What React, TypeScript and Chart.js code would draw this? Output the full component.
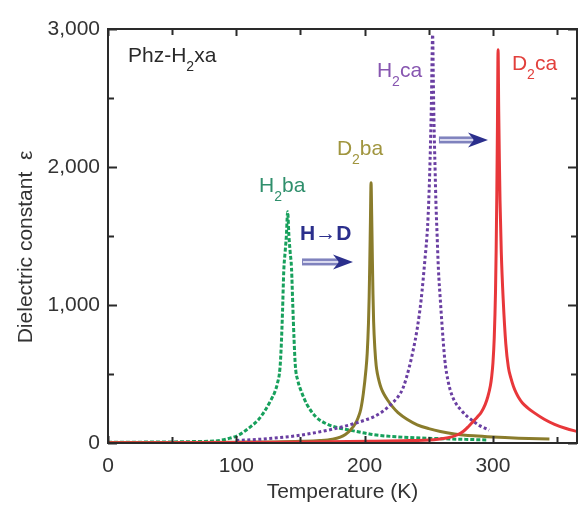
import React, { useEffect, useRef } from "react";
import { Chart, registerables } from "chart.js";
Chart.register(...registerables);

const FONT = "'Liberation Sans', Arial, Helvetica, sans-serif";

// H2ba (green dashed)
const h2baT = [0, 20, 40, 60, 70, 84, 95, 102, 110, 117, 122, 127, 130, 132, 134, 135, 136, 137, 138, 139, 140, 141, 142, 143, 144, 145, 146, 148, 151, 155, 162, 170, 177, 188, 200, 207, 220, 240, 260, 280, 296];
const h2baV = [5, 6, 7, 9, 11, 15, 35, 58, 110, 167, 230, 312, 370, 430, 540, 700, 950, 1250, 1380, 1500, 1675, 1500, 1380, 1270, 1000, 750, 560, 450, 365, 280, 190, 140, 116, 94, 72, 60, 48, 38, 31, 26, 22];

// D2ba (olive solid)
const d2baT = [0, 50, 100, 130, 150, 165, 175, 181, 185, 189, 193, 195, 197, 199, 201, 202, 203, 203.5, 204, 204.5, 205, 205.5, 206, 206.5, 207, 208, 209, 210, 211.5, 213, 215, 218, 222, 226, 233, 241, 250, 259, 270, 285, 300, 320, 344];
const d2baV = [3, 4, 6, 8, 12, 18, 28, 43, 62, 94, 145, 185, 245, 360, 529, 650, 870, 1050, 1300, 1600, 1885, 1650, 1350, 1080, 880, 680, 560, 500, 440, 395, 355, 310, 260, 220, 172, 132, 104, 83, 66, 52, 43, 35, 29];

// H2ca (purple dotted)
const h2caT = [100, 115, 130, 145, 160, 175, 187, 200, 207, 214, 220, 226, 230, 234.5, 238, 241, 244, 247, 249, 250, 251, 252, 253, 253.5, 254, 255, 255.5, 256.5, 257.5, 259, 260.5, 262, 263, 265, 267, 270, 275, 280, 285, 290, 297];
const h2caV = [18, 25, 36, 50, 72, 100, 128, 165, 190, 228, 275, 335, 400, 540, 680, 830, 1036, 1330, 1560, 1761, 2050, 2450, 2960, 2650, 2350, 1950, 1761, 1500, 1260, 1036, 830, 650, 560, 450, 375, 305, 240, 192, 155, 124, 94];

// D2ca (red solid)
const d2caT = [0, 104, 154, 204, 229, 254, 265, 272, 277, 281, 285, 288, 291, 294, 296, 298, 299, 300, 301, 302, 302.5, 303, 303.5, 304, 304.5, 305, 305.5, 306.5, 308, 310, 312, 314, 316, 318, 320, 323, 327, 332, 340, 348, 357, 366];
const d2caV = [2, 4, 7, 12, 16, 24, 38, 58, 85, 120, 160, 190, 225, 280, 335, 415, 480, 580, 760, 1100, 1400, 1800, 2300, 2850, 2400, 2050, 1761, 1380, 1036, 720, 550, 470, 410, 365, 330, 290, 255, 220, 172, 135, 105, 82];

const xTickValues = [0, 100, 200, 300];
const xMinorValues = [50, 150, 250, 350];
const yTickValues = [0, 1000, 2000, 3000];
const yMinorValues = [500, 1500, 2500];

const xTitle = "Temperature (K)";
const yTitle = "Dielectric constant  \u03b5";

type Part = [string, boolean];
const labels: { parts: Part[]; t: number; v: number; color: string; bold?: boolean }[] = [
  { parts: [["Phz-H", false], ["2", true], ["xa", false]], t: 15.6, v: 2761, color: "#2a2a2a" },
  { parts: [["H", false], ["2", true], ["ba", false]], t: 117.7, v: 1819, color: "#2f8f6c" },
  { parts: [["D", false], ["2", true], ["ba", false]], t: 178.4, v: 2087, color: "#a0953e" },
  { parts: [["H", false], ["2", true], ["ca", false]], t: 209.6, v: 2652, color: "#8756b0" },
  { parts: [["D", false], ["2", true], ["ca", false]], t: 314.8, v: 2703, color: "#e2403c" },
  { parts: [["H\u2192D", false]], t: 149.6, v: 1471, color: "#2b2f8c", bold: true },
];
const arrows = [
  { t1: 151.2, t2: 190.9, v: 1312 },
  { t1: 257.9, t2: 296.1, v: 2196 },
];

const pts = (t: number[], v: number[]) => t.map((x, i) => ({ x, y: v[i] }));

const decor = {
  id: "decor",
  afterDraw(chart: any) {
    const ctx = chart.ctx as CanvasRenderingContext2D;
    const { left, right, top, bottom } = chart.chartArea;
    const xs = chart.scales.x;
    const ys = chart.scales.y;
    ctx.save();
    ctx.strokeStyle = "#2a2a2a";
    ctx.lineWidth = 2;
    ctx.strokeRect(left, top, right - left, bottom - top);
    ctx.beginPath();
    const tickX = (vals: number[], len: number) => {
      vals.forEach((v) => {
        const p = Math.round(xs.getPixelForValue(v)) + 0.5;
        if (p < left || p > right) return;
        ctx.moveTo(p, bottom);
        ctx.lineTo(p, bottom - len);
        ctx.moveTo(p, top);
        ctx.lineTo(p, top + len);
      });
    };
    const tickY = (vals: number[], len: number) => {
      vals.forEach((v) => {
        const p = Math.round(ys.getPixelForValue(v)) + 0.5;
        ctx.moveTo(left, p);
        ctx.lineTo(left + len, p);
        ctx.moveTo(right, p);
        ctx.lineTo(right - len, p);
      });
    };
    tickX(xTickValues, 7);
    tickX(xMinorValues, 6);
    tickY(yTickValues, 9);
    tickY(yMinorValues, 6);
    ctx.stroke();

    // axis titles
    ctx.fillStyle = "#333";
    ctx.font = `21px ${FONT}`;
    ctx.textAlign = "center";
    ctx.textBaseline = "alphabetic";
    ctx.fillText(xTitle, (left + right) / 2, 498);
    ctx.save();
    ctx.translate(32, 247);
    ctx.rotate(-Math.PI / 2);
    ctx.fillText(yTitle, 0, 0);
    ctx.restore();

    // labels
    ctx.textAlign = "left";
    labels.forEach((lb) => {
      let cx = xs.getPixelForValue(lb.t);
      const by = ys.getPixelForValue(lb.v);
      lb.parts.forEach(([txt, sub]) => {
        ctx.font = `${lb.bold ? "bold " : ""}${sub ? 14 : 21}px ${FONT}`;
        ctx.fillStyle = lb.color;
        ctx.fillText(txt, cx, sub ? by + 9 : by);
        cx += ctx.measureText(txt).width;
      });
    });

    // arrows
    arrows.forEach((a) => {
      const x1 = xs.getPixelForValue(a.t1);
      const x2 = xs.getPixelForValue(a.t2);
      const y = ys.getPixelForValue(a.v);
      const headLen = 20;
      ctx.fillStyle = "#7f82bd";
      ctx.fillRect(x1, y - 3.5, x2 - x1 - headLen + 6, 7);
      ctx.fillStyle = "#dcdcf0";
      ctx.fillRect(x1 + 1, y - 1, x2 - x1 - headLen + 4, 2);
      ctx.fillStyle = "#2b2f8c";
      ctx.beginPath();
      ctx.moveTo(x2, y);
      ctx.lineTo(x2 - headLen, y - 7.5);
      ctx.lineTo(x2 - headLen + 6, y);
      ctx.lineTo(x2 - headLen, y + 7.5);
      ctx.closePath();
      ctx.fill();
    });
    ctx.restore();
  },
};

export default function App() {
  const ref = useRef<HTMLCanvasElement | null>(null);
  useEffect(() => {
    if (!ref.current) return;
    const common = {
      pointRadius: 0,
      borderWidth: 3,
      fill: false,
      cubicInterpolationMode: "monotone" as const,
    };
    const chart = new Chart(ref.current, {
      type: "line",
      data: {
        datasets: [
          { ...common, label: "D2ca", data: pts(d2caT, d2caV), borderColor: "#e8373a" },
          { ...common, label: "H2ca", data: pts(h2caT, h2caV), borderColor: "#6a3fa2", borderDash: [3, 2.5] },
          { ...common, label: "D2ba", data: pts(d2baT, d2baV), borderColor: "#8a7c2c" },
          { ...common, label: "H2ba", data: pts(h2baT, h2baV), borderColor: "#17a05c", borderDash: [4, 2] },
        ],
      },
      options: {
        animation: false,
        responsive: false,
        parsing: false as any,
        layout: { padding: { left: 8, top: 29, right: 1, bottom: 0 } },
        plugins: { legend: { display: false }, tooltip: { enabled: false } },
        scales: {
          x: {
            type: "linear",
            min: 0,
            max: 365.5,
            grid: { display: false, drawTicks: false },
            border: { display: false },
            ticks: {
              stepSize: 100,
              includeBounds: false,
              maxRotation: 0,
              padding: 11,
              color: "#333",
              font: { size: 21, family: FONT },
            },
            afterFit: (s: any) => {
              s.height = 63;
            },
          },
          y: {
            type: "linear",
            min: 0,
            max: 3000,
            grid: { display: false, drawTicks: false },
            border: { display: false },
            ticks: {
              stepSize: 1000,
              padding: 8,
              color: "#333",
              font: { size: 21, family: FONT },
              callback: (v: any) => Number(v).toLocaleString("en-US"),
            },
            afterFit: (s: any) => {
              s.width = 100;
            },
          },
        },
      },
      plugins: [decor],
    });
    return () => chart.destroy();
  }, []);
  return (
    <div style={{ position: "fixed", left: 0, top: 0, width: 578, height: 506, background: "#fff" }}>
      <canvas ref={ref} width={578} height={506} style={{ display: "block" }} />
    </div>
  );
}
